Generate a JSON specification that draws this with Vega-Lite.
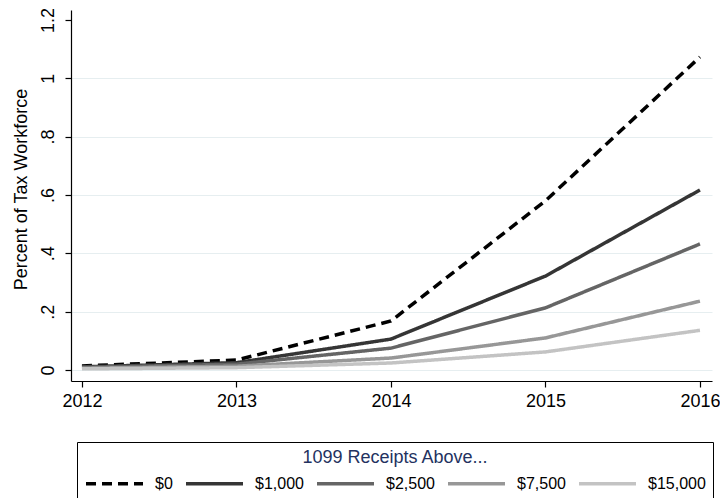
{
  "$schema": "https://vega.github.io/schema/vega-lite/v6.json",
  "width": 641,
  "height": 371,
  "autosize": {"type": "none"},
  "padding": {"left": 71, "top": 10, "right": 8, "bottom": 117},
  "background": "white",
  "config": {
    "view": {"stroke": null},
    "font": "Liberation Sans",
    "axis": {
      "domainColor": "black", "domainWidth": 1.2, "tickColor": "black", "tickWidth": 1.2, "tickSize": 6,
      "labelFont": "Liberation Sans", "labelFontSize": 18, "labelColor": "black",
      "titleFont": "Liberation Sans", "titleFontSize": 18, "titleFontWeight": "normal", "titleColor": "black"
    },
    "legend": {
      "orient": "none", "legendX": 6, "legendY": 432, "direction": "horizontal", "columns": 5,
      "titleFontSize": 18, "titleColor": "#23325f", "titleAnchor": "middle", "titleFontWeight": "normal", "titlePadding": 5, "titleFont": "Liberation Sans", "titleLimit": 0,
      "labelFontSize": 16, "labelColor": "black", "labelOffset": 48, "labelFont": "Liberation Sans", "labelLimit": 0,
      "symbolType": "M-1,0L5,0", "symbolSize": 361, "symbolStrokeWidth": 3.5,
      "columnPadding": 6, "padding": 7, "strokeColor": "black", "fillColor": "white"
    }
  },
  "data": {
    "values": [
      {"year": 2012, "series": "$0", "value": 0.014},
      {"year": 2013, "series": "$0", "value": 0.034},
      {"year": 2014, "series": "$0", "value": 0.168},
      {"year": 2015, "series": "$0", "value": 0.58},
      {"year": 2016, "series": "$0", "value": 1.073},
      {"year": 2012, "series": "$1,000", "value": 0.011},
      {"year": 2013, "series": "$1,000", "value": 0.025},
      {"year": 2014, "series": "$1,000", "value": 0.106},
      {"year": 2015, "series": "$1,000", "value": 0.322},
      {"year": 2016, "series": "$1,000", "value": 0.617},
      {"year": 2012, "series": "$2,500", "value": 0.009},
      {"year": 2013, "series": "$2,500", "value": 0.02},
      {"year": 2014, "series": "$2,500", "value": 0.075},
      {"year": 2015, "series": "$2,500", "value": 0.213},
      {"year": 2016, "series": "$2,500", "value": 0.432},
      {"year": 2012, "series": "$7,500", "value": 0.006},
      {"year": 2013, "series": "$7,500", "value": 0.013},
      {"year": 2014, "series": "$7,500", "value": 0.041},
      {"year": 2015, "series": "$7,500", "value": 0.11},
      {"year": 2016, "series": "$7,500", "value": 0.236},
      {"year": 2012, "series": "$15,000", "value": 0.004},
      {"year": 2013, "series": "$15,000", "value": 0.008},
      {"year": 2014, "series": "$15,000", "value": 0.024},
      {"year": 2015, "series": "$15,000", "value": 0.062},
      {"year": 2016, "series": "$15,000", "value": 0.136}
    ]
  },
  "mark": {"type": "line", "strokeWidth": 3.5, "strokeCap": "butt", "strokeJoin": "miter"},
  "encoding": {
    "x": {
      "field": "year", "type": "quantitative",
      "scale": {"domain": [2011.929, 2016.078], "nice": false, "zero": false},
      "axis": {"values": [2012, 2013, 2014, 2015, 2016], "format": "d", "grid": false, "title": null, "labelPadding": 5, "labelFlush": false}
    },
    "y": {
      "field": "value", "type": "quantitative",
      "scale": {"domain": [-0.0377, 1.234], "nice": false, "zero": false},
      "axis": {
        "values": [0, 0.2, 0.4, 0.6, 0.8, 1, 1.2],
        "labelExpr": "datum.value > 0 && datum.value < 1 ? slice(format(datum.value, '.1f'), 1) : format(datum.value, '.1~f')",
        "labelAngle": 270, "labelAlign": "center", "labelBaseline": "bottom", "labelPadding": 8, "labelFlush": false,
        "grid": true, "gridColor": "#e6eef0", "gridWidth": 1,
        "gridOpacity": {"condition": {"test": "datum.value > 1.1", "value": 0}, "value": 1},
        "title": "Percent of Tax Workforce", "titlePadding": 9, "titleY": 179
      }
    },
    "color": {
      "field": "series", "type": "nominal",
      "scale": {"domain": ["$0", "$1,000", "$2,500", "$7,500", "$15,000"], "range": ["#000000", "#353535", "#656565", "#979797", "#c3c3c3"]},
      "legend": {"title": "1099 Receipts Above..."}
    },
    "strokeDash": {
      "field": "series", "type": "nominal",
      "scale": {"domain": ["$0", "$1,000", "$2,500", "$7,500", "$15,000"], "range": [[10, 6], [1, 0], [1, 0], [1, 0], [1, 0]]},
      "legend": {"title": "1099 Receipts Above..."}
    }
  }
}
